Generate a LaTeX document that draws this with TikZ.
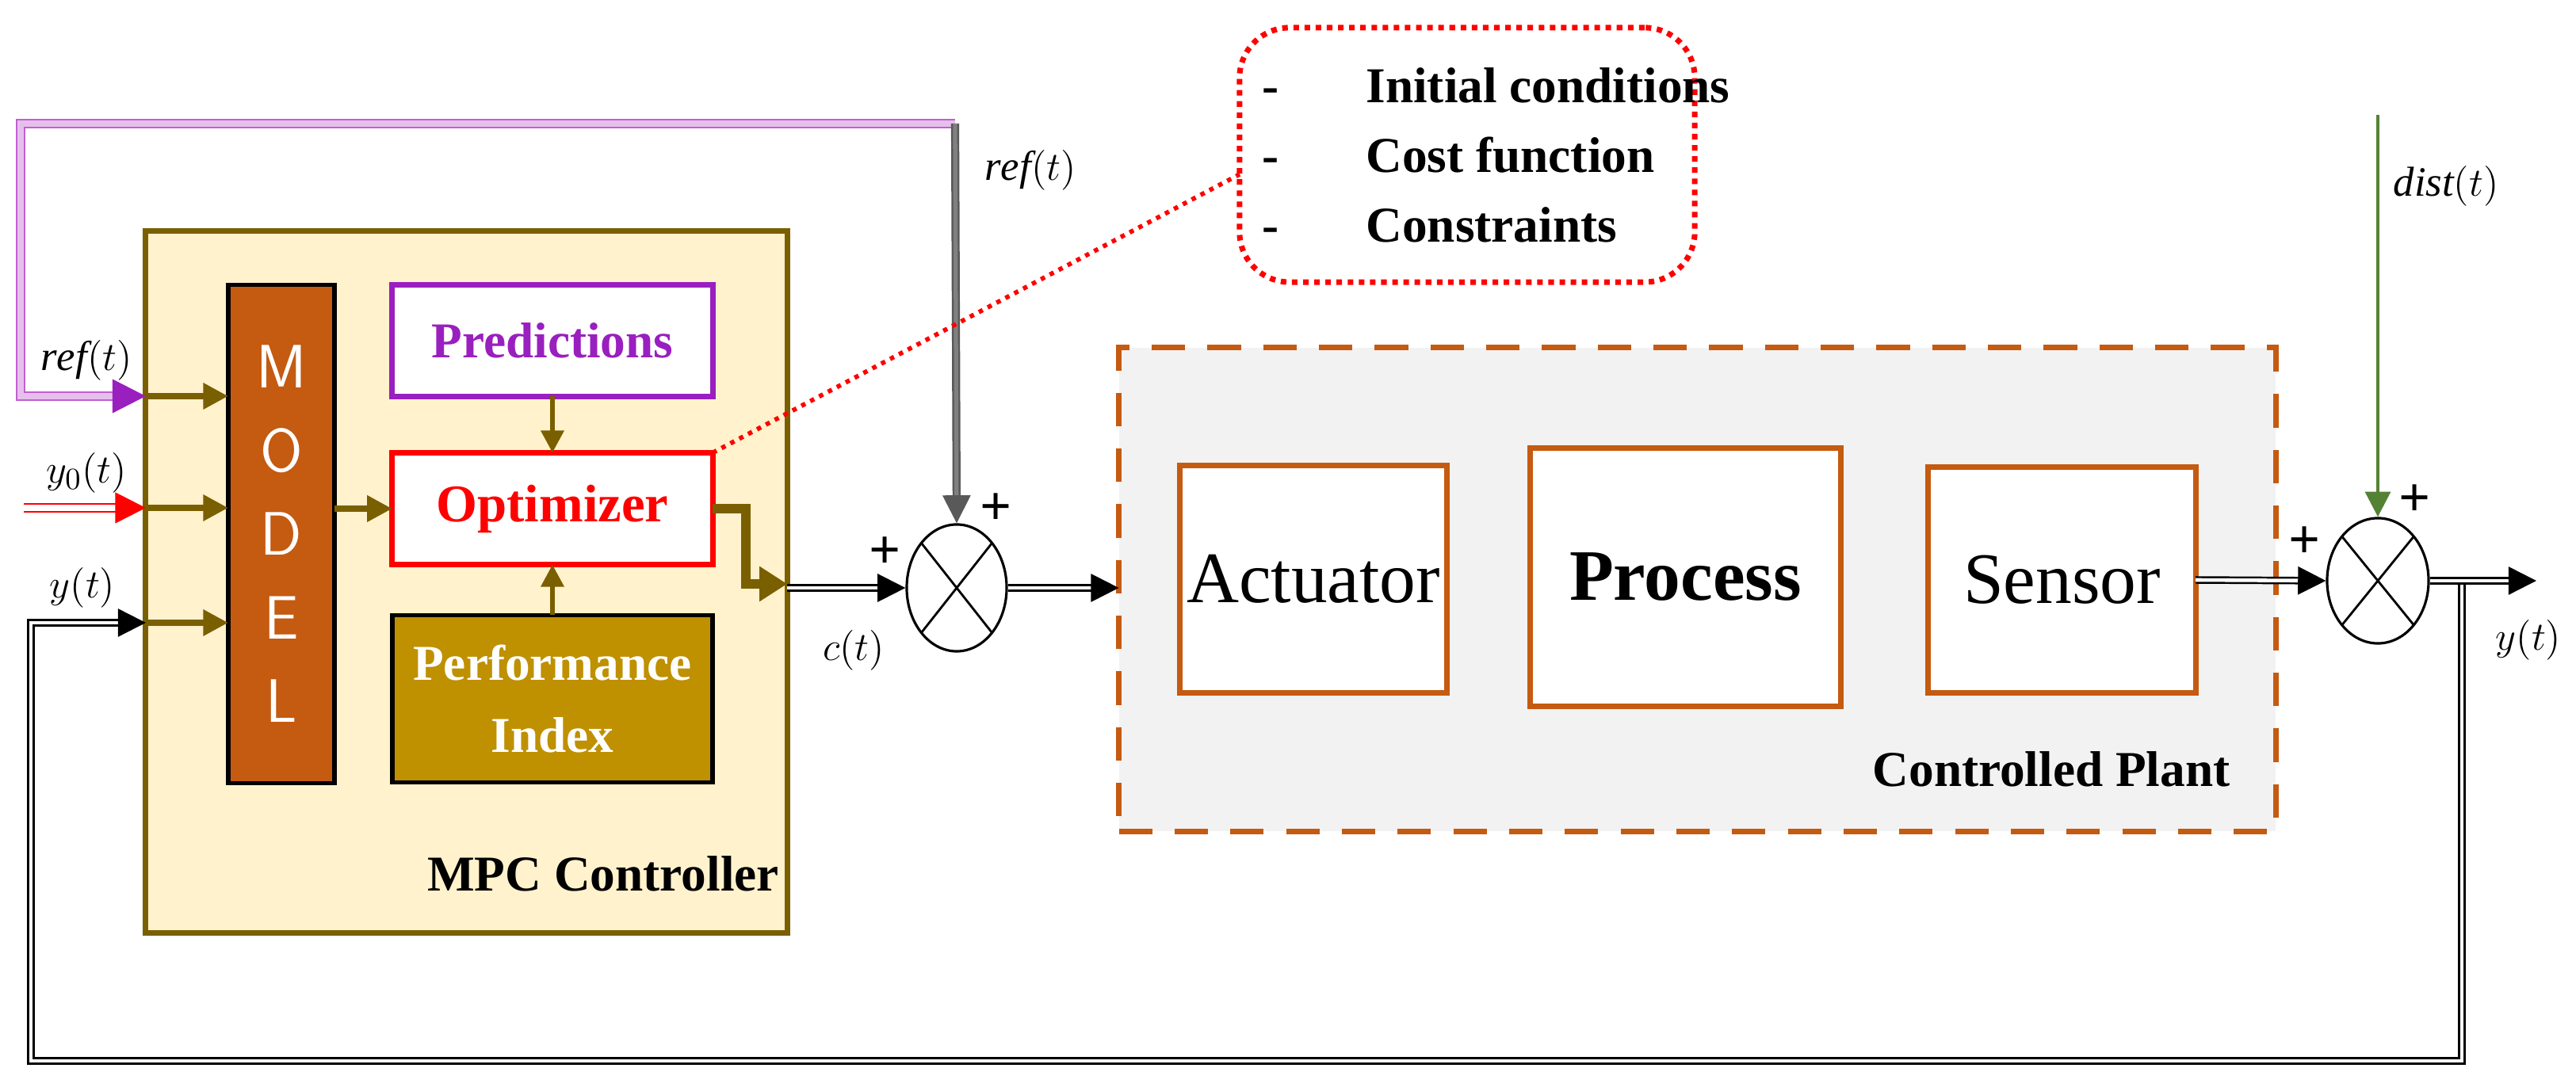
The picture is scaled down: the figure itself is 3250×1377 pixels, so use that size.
\documentclass[tikz,border=0pt]{standalone}
\usepackage{fontspec}
\setmainfont{Liberation Serif}
\usetikzlibrary{arrows.meta,shapes.geometric,calc}
\definecolor{olive}{HTML}{7A5F00}
\definecolor{cream}{HTML}{FFF2CC}
\definecolor{rust}{HTML}{C55A11}
\definecolor{gold}{HTML}{BF9000}
\definecolor{purp}{HTML}{9A1FBF}
\definecolor{lilac}{HTML}{C060D0}
\definecolor{grn}{HTML}{548235}
\tikzset{
 box/.style={rectangle,inner sep=0pt,outer sep=0pt},
 lab/.style={font=\fontsize{15}{15}\selectfont},
 ol/.style={olive,line width=2.2pt,-{Triangle[length=9pt,width=9pt]}},
 dbl/.style={double=white,double distance=1.3pt,line width=0.7pt,-{Triangle[length=10pt,width=10pt]}},
 sum/.style={ellipse,draw,line width=0.9pt,inner sep=0pt,path picture={
   \draw[line width=0.8pt] (path picture bounding box.north west)--(path picture bounding box.south east)
   (path picture bounding box.south west)--(path picture bounding box.north east);}},
 pl/.style={font=\bfseries\fontsize{20}{20}\selectfont}
}
\begin{document}
\begin{tikzpicture}[x=0.01cm,y=-0.01cm]
\useasboundingbox (0,0) rectangle (3250,1377);
% containers
\node[box,draw=olive,fill=cream,line width=2pt,minimum width=8.09cm,minimum height=8.85cm] (mpc) at (588.5,734.5) {};
\node[box,draw=rust,fill=gray!10,line width=2pt,dashed,dash pattern=on 12pt off 8pt,minimum width=14.59cm,minimum height=6.1cm] (plant) at (2141.5,744) {};
\node[box,draw=black,fill=rust,line width=1.5pt,minimum width=1.34cm,minimum height=6.28cm,text=white,align=center,font=\sffamily\fontsize{22}{30}\selectfont] (model) at (355,674) {M\\O\\D\\E\\L};
\node[box,draw=purp,fill=white,line width=2pt,minimum width=4.04cm,minimum height=1.4cm,text=purp,font=\bfseries\fontsize{18}{18}\selectfont] (pred) at (697,430) {Predictions};
\node[box,draw=red,fill=white,line width=2pt,minimum width=4.04cm,minimum height=1.41cm,text=red,font=\bfseries\fontsize{19}{19}\selectfont] (opt) at (697,642) {Optimizer};
\node[box,draw=black,fill=gold,line width=1.5pt,minimum width=4.04cm,minimum height=2.11cm,text=white,align=center,font=\bfseries\fontsize{18}{26}\selectfont] (perf) at (697,882) {Performance\\Index};
\node[anchor=base,font=\bfseries\fontsize{18}{18}\selectfont] (mpcl) at (761,1125) {MPC Controller};
\node[box,draw=rust,fill=white,line width=2pt,minimum width=3.36cm,minimum height=2.86cm,font=\fontsize{26}{26}\selectfont] (act) at (1657,731) {Actuator};
\node[box,draw=rust,fill=white,line width=2pt,minimum width=3.91cm,minimum height=3.25cm,font=\bfseries\fontsize{26}{26}\selectfont] (proc) at (2126.5,728.5) {Process};
\node[box,draw=rust,fill=white,line width=2pt,minimum width=3.37cm,minimum height=2.84cm,font=\fontsize{26}{26}\selectfont] (sens) at (2601.5,732) {Sensor};
\node[anchor=base,font=\bfseries\fontsize{18}{18}\selectfont] (plantl) at (2588,993) {Controlled Plant};
\node[box,draw=red,dotted,line width=2pt,rounded corners=18pt,minimum width=5.74cm,minimum height=3.21cm] (call) at (1851,195.5) {};
\node[anchor=west,align=left,font=\bfseries\fontsize{18}{25}\selectfont] (calltxt) at (1580,196) {-\hspace{1.1cm}Initial conditions\\-\hspace{1.1cm}Cost function\\-\hspace{1.1cm}Constraints};
\node[sum,minimum width=1.26cm,minimum height=1.6cm] (s1) at (1207,742) {};
\node[sum,minimum width=1.28cm,minimum height=1.58cm] (s2) at (3000,733) {};
% coordinates
\coordinate (pt) at (1205,156);
\coordinate (pl) at (26,156);
\coordinate (ri) at (184,500);
\coordinate (rip) at (164,500);
\coordinate (ria) at (150,500);
\coordinate (yi0s) at (30,641);
\coordinate (yi0) at (184,641);
\coordinate (yi) at (184,786);
\coordinate (fb) at (3106,733);
\coordinate (fbl) at (39,1339);
\coordinate (dtop) at (3000,145);
\coordinate (yout) at (3200,733);
\coordinate (cin) at (993,742);
\coordinate (ob) at (941,642);
\coordinate (oc) at (941,737);
\coordinate (cw) at (1564,220);
% connectors
\draw[double=lilac!40,draw=lilac,double distance=2pt,line width=0.8pt] (pt) -- (pl) |- (rip);
\draw[purp,-{Triangle[length=12pt,width=12pt]},line width=1pt] (ria) -- (ri);
\draw[double=gray,draw=gray!70!black,double distance=1.5pt,line width=0.7pt,-{Triangle[length=10pt,width=10pt]}] (pt) -- (s1.north);
\draw[double=white,draw=red,double distance=2pt,line width=0.8pt,-{Triangle[length=11pt,width=11pt]}] (yi0s) -- (yi0);
\draw[dbl] (fb) |- (fbl) |- (yi);
\draw[ol] (ri) -- (ri -| model.west);
\draw[ol] (yi0) -- (yi0 -| model.west);
\draw[ol] (yi) -- (yi -| model.west);
\draw[ol] (model.east |- opt) -- (opt.west);
\draw[olive,line width=1.8pt,-{Triangle[length=8pt,width=8pt]}] (pred.south) -- (opt.north);
\draw[olive,line width=1.8pt,-{Triangle[length=8pt,width=8pt]}] (perf.north) -- (opt.south);
\draw[olive,line width=3.5pt,-{Triangle[length=10pt,width=12pt]}] (opt.east) -- (ob) -- (oc) -- (oc -| mpc.east);
\draw[dbl] (cin) -- (s1.west);
\draw[dbl] (s1.east) -- (plant.west |- s1.east);
\draw[dbl] (sens.east) -- (s2.west);
\draw[grn,line width=1.2pt,-{Triangle[length=9pt,width=9pt]}] (dtop) -- (s2.north);
\draw[dbl] (s2.east) -- (yout);
\draw[red,dotted,line width=1.6pt] (opt.north east) -- (cw);
% labels
\node[lab] (l1) at (109,455) {$\mathit{ref}(t)$};
\node[lab] (l2) at (109,597) {$y_0(t)$};
\node[lab] (l3) at (104,742) {$y(t)$};
\node[lab] (l4) at (1300,215) {$\mathit{ref}(t)$};
\node[lab] (l5) at (1077,821) {$c(t)$};
\node[lab] (l6) at (3086,235) {$\mathit{dist}(t)$};
\node[lab] (l7) at (3190,808) {$y(t)$};
\node[pl] (p1) at (1117,698) {+};
\node[pl] (p2) at (1257,643) {+};
\node[pl] (p3) at (2908,685) {+};
\node[pl] (p4) at (3047,632) {+};
\end{tikzpicture}
\end{document}
